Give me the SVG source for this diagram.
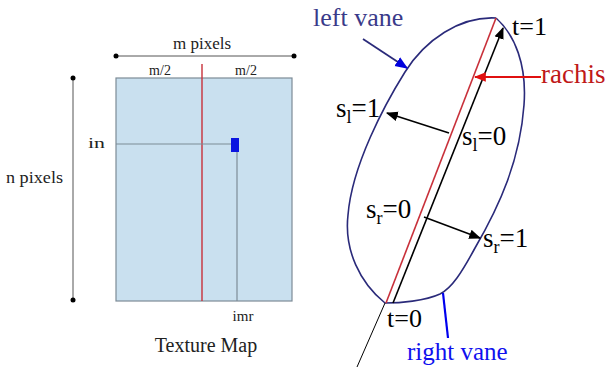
<svg xmlns="http://www.w3.org/2000/svg" width="611" height="370" viewBox="0 0 611 370">
<defs>
<style>
text{font-family:"Liberation Serif","Times New Roman",serif;}
.k{fill:#222;}
.g{stroke:#7d8b96;stroke-width:1.2;fill:none;}
.vane{fill:none;stroke:#2a2a7a;stroke-width:1.6;}
.blk{stroke:#000;stroke-width:1.6;fill:none;}
.eq{font-size:27px;fill:#000;}
.sub{font-size:18px;}
</style>
<marker id="ak2" viewBox="0 0 10 10" refX="9" refY="5" markerWidth="12" markerHeight="12" orient="auto" markerUnits="userSpaceOnUse">
<path d="M0,1 L10,5 L0,9 z" fill="#000"/>
</marker>
<marker id="ar" viewBox="0 0 10 10" refX="9" refY="5" markerWidth="12" markerHeight="12" orient="auto" markerUnits="userSpaceOnUse">
<path d="M0,1 L10,5 L0,9 z" fill="#e01010"/>
</marker>
<marker id="ab" viewBox="0 0 10 10" refX="9" refY="5" markerWidth="13" markerHeight="13" orient="auto" markerUnits="userSpaceOnUse">
<path d="M0,1 L10,5 L0,9 z" fill="#0000dd"/>
</marker>
</defs>
<rect width="611" height="370" fill="#fff"/>

<g id="texture-map">
<rect x="116" y="78" width="176" height="223" fill="#c9e0ef" stroke="#7d8b96" stroke-width="1.2"/>
<line x1="202" y1="64" x2="202" y2="301" stroke="#c8303a" stroke-width="1.4"/>
<line class="g" x1="116" y1="144" x2="232" y2="144"/>
<line class="g" x1="237" y1="152" x2="237" y2="301"/>
<rect x="231" y="138" width="8" height="14" fill="#0a14e0"/>
</g>

<g id="dimensions">
<line x1="116" y1="56" x2="294" y2="56" stroke="#555" stroke-width="1"/>
<circle cx="116" cy="56" r="2.5" fill="#000"/>
<circle cx="294" cy="56" r="2.5" fill="#000"/>
<line x1="73" y1="78" x2="73" y2="300" stroke="#555" stroke-width="1"/>
<circle cx="73" cy="78" r="2.5" fill="#000"/>
<circle cx="73" cy="300" r="2.5" fill="#000"/>
</g>

<g id="texture-labels" class="k">
<text x="202" y="49" font-size="17" text-anchor="middle">m pixels</text>
<text x="160" y="75" font-size="14" text-anchor="middle">m/2</text>
<text x="246" y="75" font-size="14" text-anchor="middle">m/2</text>
<text x="88" y="148" font-size="15" textLength="17" lengthAdjust="spacingAndGlyphs">in</text>
<text x="6" y="183" font-size="17" textLength="57" lengthAdjust="spacingAndGlyphs">n pixels</text>
<text x="243" y="321" font-size="15" text-anchor="middle">imr</text>
<text x="206" y="352" font-size="20" text-anchor="middle">Texture Map</text>
</g>

<g id="vane">
<path class="vane" d="M496,18 C460,16 425,40 405,72 C385,104 352,165 348,215 C344,250 360,283 385,303"/>
<path class="vane" d="M496,18 C515,35 527,65 524,105 C520,160 500,205 475,248 C462,272 452,288 440,294 C425,301 400,303 385,303"/>
</g>

<g id="rachis">
<line x1="386" y1="303" x2="496" y2="18" stroke="#c8303a" stroke-width="1.6"/>
</g>

<g id="connectors">
<line class="blk" x1="393" y1="303" x2="503" y2="28" marker-end="url(#ak2)"/>
<line x1="385" y1="303" x2="357" y2="367" stroke="#000" stroke-width="1"/>
<line class="blk" x1="449" y1="133" x2="387" y2="113" marker-end="url(#ak2)"/>
<line class="blk" x1="424" y1="217" x2="480" y2="238" marker-end="url(#ak2)"/>
<line x1="541" y1="77" x2="475" y2="77" stroke="#e01010" stroke-width="1.8" marker-end="url(#ar)"/>
<line x1="363" y1="39" x2="407" y2="68" stroke="#2a2a7a" stroke-width="1.8" marker-end="url(#ab)"/>
<line x1="443" y1="293" x2="448" y2="338" stroke="#0000ee" stroke-width="2.2"/>
</g>

<g id="vane-labels">
<text x="313" y="26" font-size="26" fill="#3a3a8a">left vane</text>
<text x="541" y="83" font-size="27" fill="#c01818">rachis</text>
<text x="407" y="360" font-size="25" fill="#1010ee">right vane</text>
<text x="512" y="35" font-size="26" fill="#000">t=1</text>
<text x="387" y="327" font-size="26" fill="#000">t=0</text>
<text class="eq" x="336" y="117">s<tspan class="sub" dy="6">l</tspan><tspan dy="-6">=1</tspan></text>
<text class="eq" x="462" y="145">s<tspan class="sub" dy="6">l</tspan><tspan dy="-6">=0</tspan></text>
<text class="eq" x="366" y="218">s<tspan class="sub" dy="6">r</tspan><tspan dy="-6">=0</tspan></text>
<text class="eq" x="483" y="247">s<tspan class="sub" dy="6">r</tspan><tspan dy="-6">=1</tspan></text>
</g>
</svg>
